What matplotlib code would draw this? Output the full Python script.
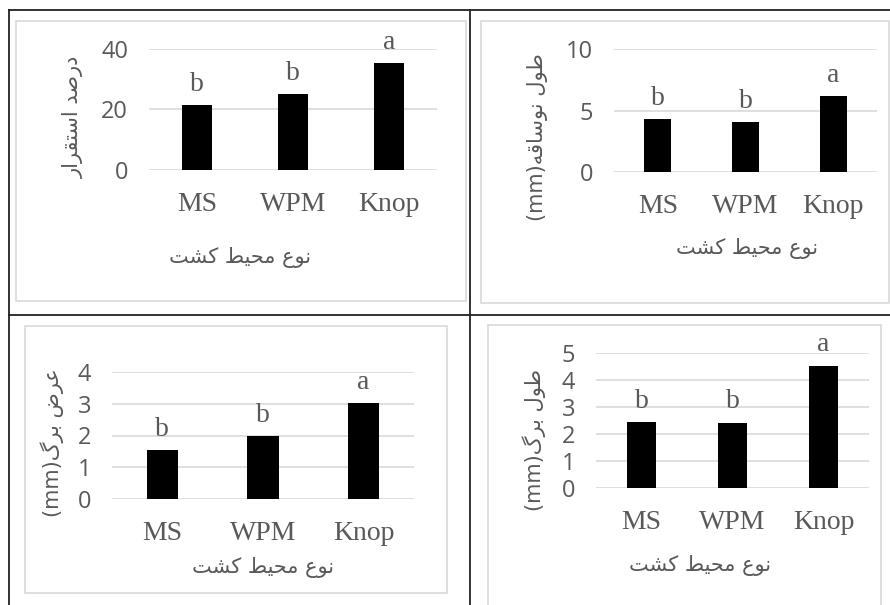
import matplotlib
matplotlib.use('Agg')
import matplotlib.pyplot as plt
from matplotlib.patches import Rectangle
from matplotlib.lines import Line2D

media = ['MS', 'WPM', 'Knop']

establish_pct = [21.5, 25.1, 35.3]
establish_grp = ['b', 'b', 'a']

shoot_len = [4.28, 4.07, 6.18]
shoot_grp = ['b', 'b', 'a']

leaf_width = [1.54, 1.97, 3.01]
leaf_width_grp = ['b', 'b', 'a']

leaf_len = [2.43, 2.42, 4.53]
leaf_len_grp = ['b', 'b', 'a']

xlabel_fa = 'نوع محیط کشت'

# matplotlib has no arabic shaping, so pick presentation forms by hand
# (isolated, final, initial, medial); two entries -> letter only joins to the right
FORMS = {
    'ا': ('\uFE8D', '\uFE8E'), 'د': ('\uFEA9', '\uFEAA'), 'ر': ('\uFEAD', '\uFEAE'),
    'و': ('\uFEED', '\uFEEE'),
    'ب': ('\uFE8F', '\uFE90', '\uFE91', '\uFE92'), 'ت': ('\uFE95', '\uFE96', '\uFE97', '\uFE98'),
    'ح': ('\uFEA1', '\uFEA2', '\uFEA3', '\uFEA4'), 'س': ('\uFEB1', '\uFEB2', '\uFEB3', '\uFEB4'),
    'ش': ('\uFEB5', '\uFEB6', '\uFEB7', '\uFEB8'), 'ص': ('\uFEB9', '\uFEBA', '\uFEBB', '\uFEBC'),
    'ض': ('\uFEBD', '\uFEBE', '\uFEBF', '\uFEC0'), 'ط': ('\uFEC1', '\uFEC2', '\uFEC3', '\uFEC4'),
    'ع': ('\uFEC9', '\uFECA', '\uFECB', '\uFECC'), 'ق': ('\uFED5', '\uFED6', '\uFED7', '\uFED8'),
    'ل': ('\uFEDD', '\uFEDE', '\uFEDF', '\uFEE0'), 'م': ('\uFEE1', '\uFEE2', '\uFEE3', '\uFEE4'),
    'ن': ('\uFEE5', '\uFEE6', '\uFEE7', '\uFEE8'), 'ه': ('\uFEE9', '\uFEEA', '\uFEEB', '\uFEEC'),
    'ک': ('\uFB8E', '\uFB8F', '\uFB90', '\uFB91'), 'گ': ('\uFB92', '\uFB93', '\uFB94', '\uFB95'),
    'ی': ('\uFBFC', '\uFBFD', '\uFBFE', '\uFBFF'),
}


def fa(s):
    out = []
    for i, c in enumerate(s):
        if c not in FORMS:
            out.append(c)
            continue
        prev = s[i - 1] if i > 0 else ' '
        nxt = s[i + 1] if i < len(s) - 1 else ' '
        jp = prev in FORMS and len(FORMS[prev]) == 4
        jn = nxt in FORMS and len(FORMS[c]) == 4
        f = FORMS[c]
        if jp and jn:
            out.append(f[3])
        elif jp:
            out.append(f[1])
        elif jn:
            out.append(f[2])
        else:
            out.append(f[0])
    return ''.join(out[::-1])


GREY = '#595959'
W, H = 890, 605

fig = plt.figure(figsize=(8.9, 6.05), dpi=100)


def px(x0, y0, x1, y1):
    # pixel box (from top-left) -> figure fraction rect
    return [x0 / W, 1 - y1 / H, (x1 - x0) / W, (y1 - y0) / H]


# table lines
for (xa, ya, xb, yb) in [(9, 10, 890, 10), (9, 10, 9, 605), (470, 10, 470, 605), (9, 315, 890, 315)]:
    fig.add_artist(Line2D([xa / W, xb / W], [1 - ya / H, 1 - yb / H], color='#222222', lw=1.3))

# grey chart frames
for (x0, y0, x1, y1) in [(16, 21, 466, 301), (481, 21, 889, 303), (25, 326, 447, 593), (488, 325, 881, 606)]:
    fig.add_artist(Rectangle((x0 / W, 1 - y1 / H), (x1 - x0) / W, (y1 - y0) / H,
                             transform=fig.transFigure, fill=False, ec='#d9d9d9', lw=1.2))

panels = [
    (px(149, 49, 437, 170), establish_pct, establish_grp, 40, 20, fa('درصد استقرار'), (73, 117), (240, 257)),
    (px(614, 49, 877, 172), shoot_len, shoot_grp, 10, 5, '(mm)' + fa('طول نوساقه'), (537, 137), (747, 248)),
    (px(112, 372, 414, 499), leaf_width, leaf_width_grp, 4, 1, '(mm)' + fa('عرض برگ'), (52, 443), (263, 568)),
    (px(596, 353, 869, 488), leaf_len, leaf_len_grp, 5, 1, '(mm)' + fa('طول برگ'), (534, 440), (700, 565)),
]

for rect, vals, grp, ymax, step, ylab, ylpos, xlpos in panels:
    ax = fig.add_axes(rect)
    x = range(len(media))
    ax.bar(x, vals, width=0.31, color='black', zorder=3)
    ax.set_xlim(-0.5, 2.5)
    ax.set_ylim(0, ymax)
    ax.set_yticks(range(0, ymax + 1, step))
    ax.set_xticks(list(x))
    ax.set_xticklabels(media, family='Liberation Serif', fontsize=20, color=GREY)
    ax.tick_params(axis='x', length=0, pad=16)
    ax.tick_params(axis='y', length=0, pad=15, labelsize=17, labelcolor=GREY)
    for lab in ax.get_yticklabels():
        lab.set_family('Open Sans')
    ax.grid(axis='y', color='#d9d9d9', lw=1.2, zorder=0)
    ax.set_axisbelow(True)
    for s in ax.spines.values():
        s.set_visible(False)
    for i, (v, g) in enumerate(zip(vals, grp)):
        ax.annotate(g, (i, v), xytext=(0, 6), textcoords='offset points', ha='center', va='bottom',
                    family='Liberation Serif', fontsize=20, color=GREY)
    fig.text(ylpos[0] / W, 1 - ylpos[1] / H, ylab, rotation=90, ha='center', va='center',
             family='DejaVu Sans', fontsize=15, color=GREY)
    fig.text(xlpos[0] / W, 1 - xlpos[1] / H, fa(xlabel_fa), ha='center', va='center',
             family='DejaVu Sans', fontsize=15, color=GREY)

fig.savefig('out.png', dpi=100)
